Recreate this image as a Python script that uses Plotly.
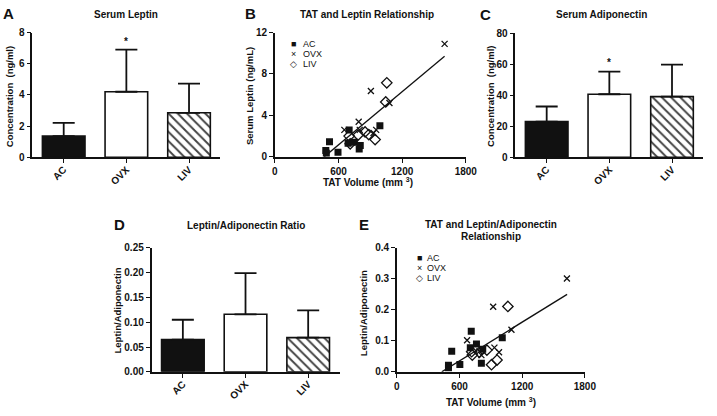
import plotly.graph_objects as go

W, H = 717, 416
FONT = "Liberation Sans, Arial, sans-serif"
INK = "#111111"

# ---------------- data ----------------
groups = ["AC", "OVX", "LIV"]

leptin_mean = [1.35, 4.2, 2.85]
leptin_upper = [2.2, 6.9, 4.72]

adipo_mean = [23.0, 40.7, 39.2]
adipo_upper = [32.8, 55.3, 59.8]

ratio_mean = [0.065, 0.116, 0.069]
ratio_upper = [0.105, 0.199, 0.124]

# Panel B: TAT volume vs serum leptin
b_ac_x = [480, 485, 515, 595, 700, 690, 750, 805, 795, 990]
b_ac_y = [0.6, 0.35, 1.45, 0.45, 2.6, 1.3, 1.4, 1.1, 0.75, 3.0]
b_ovx_x = [1600, 905, 1080, 655, 955, 930, 790, 800]
b_ovx_y = [10.9, 6.36, 5.2, 2.6, 2.6, 2.3, 3.38, 2.6]
b_liv_x = [1055, 1045, 700, 710, 850, 885, 945, 785]
b_liv_y = [7.14, 5.3, 2.0, 1.25, 2.4, 2.15, 1.66, 2.1]
b_fit_x = [465, 1600]
b_fit_y = [0.0, 9.7]

# Panel E: TAT volume vs leptin/adiponectin
e_ac_x = [494, 494, 525, 603, 712, 703, 762, 822, 809, 1009]
e_ac_y = [0.021, 0.013, 0.066, 0.024, 0.131, 0.078, 0.090, 0.073, 0.028, 0.110]
e_ovx_x = [1628, 922, 1097, 672, 934, 978, 809, 790]
e_ovx_y = [0.301, 0.210, 0.136, 0.102, 0.078, 0.063, 0.054, 0.066]
e_liv_x = [1063, 716, 722, 862, 906, 959, 790]
e_liv_y = [0.211, 0.065, 0.054, 0.070, 0.023, 0.038, 0.063]
e_fit_x = [430, 1630]
e_fit_y = [0.0, 0.25]


def px(x):
    return x / W


def py(y):
    return 1 - y / H


fig = go.Figure()

bar_colors = [INK, "white", "white"]
bar_patterns = ["", "", "\\"]


def add_bars(mean, upper, xa, ya):
    fig.add_trace(go.Bar(
        x=groups, y=mean, xaxis=xa, yaxis=ya, width=0.68, showlegend=False,
        marker=dict(color=bar_colors, line=dict(color=INK, width=1.6),
                    pattern=dict(shape=bar_patterns, fgcolor=INK, bgcolor="white",
                                 fgopacity=1, size=6.5, solidity=0.3)),
        error_y=dict(type="data", symmetric=False,
                     array=[u - m for u, m in zip(upper, mean)],
                     arrayminus=[0, 0, 0], color=INK, thickness=1.8, width=11),
    ))


add_bars(leptin_mean, leptin_upper, "x", "y")
add_bars(adipo_mean, adipo_upper, "x3", "y3")
add_bars(ratio_mean, ratio_upper, "x4", "y4")


def add_scatter(xa, ya, acx, acy, ovx, ovy, livx, livy, fx, fy):
    fig.add_trace(go.Scatter(x=fx, y=fy, xaxis=xa, yaxis=ya, mode="lines",
                             line=dict(color=INK, width=1.3), showlegend=False))
    fig.add_trace(go.Scatter(x=acx, y=acy, xaxis=xa, yaxis=ya, mode="markers", name="AC",
                             marker=dict(symbol="square", size=7, color=INK), showlegend=False))
    fig.add_trace(go.Scatter(x=ovx, y=ovy, xaxis=xa, yaxis=ya, mode="markers", name="OVX",
                             marker=dict(symbol="x-thin", size=6, line=dict(color=INK, width=1.3)),
                             showlegend=False))
    fig.add_trace(go.Scatter(x=livx, y=livy, xaxis=xa, yaxis=ya, mode="markers", name="LIV",
                             marker=dict(symbol="diamond-open", size=8, color=INK,
                                         line=dict(color=INK, width=1.3)), showlegend=False))


add_scatter("x2", "y2", b_ac_x, b_ac_y, b_ovx_x, b_ovx_y, b_liv_x, b_liv_y, b_fit_x, b_fit_y)
add_scatter("x5", "y5", e_ac_x, e_ac_y, e_ovx_x, e_ovx_y, e_liv_x, e_liv_y, e_fit_x, e_fit_y)

tickfont = dict(family=FONT, size=10, color=INK, weight="bold")
axis_common = dict(showline=True, linecolor=INK, linewidth=1.5, ticks="outside",
                   ticklen=4, tickwidth=1.3, tickcolor=INK, showgrid=False,
                   zeroline=False, tickfont=tickfont, fixedrange=True)

# (x_left, x_right, y_bottom, y_top) in pixels
boxes = {
    "1": (30, 222, 155.7, 27.3),
    "2": (277.7, 472.7, 155.3, 27.3),
    "3": (523.3, 715.3, 155.7, 28.3),
    "4": (151.7, 343.7, 376.7, 249),
    "5": (402.3, 594.3, 376.7, 249),
}
yranges = {"1": [0, 8], "2": [0, 12], "3": [0, 80], "4": [0, 0.25], "5": [0, 0.4]}
ydtick = {"1": 2, "2": 4, "3": 20, "4": 0.05, "5": 0.1}
yfmt = {"1": "d", "2": "d", "3": "d", "4": ".2f", "5": ".1f"}

layout_axes = {}
for k, (xl, xr, yb, yt) in boxes.items():
    xn = "xaxis" if k == "1" else f"xaxis{k}"
    yn = "yaxis" if k == "1" else f"yaxis{k}"
    ya_name = "y" if k == "1" else f"y{k}"
    xa_name = "x" if k == "1" else f"x{k}"
    xa = dict(axis_common, domain=[px(xl), px(xr)], anchor=ya_name)
    if k in ("2", "5"):
        xa.update(range=[0, 1800], tickvals=[0, 600, 1200, 1800])
    else:
        xa.update(type="category", range=[-0.5, 2.5], tickangle=-45, ticklabelstandoff=-3)
    ya = dict(axis_common, domain=[py(yb), py(yt)], anchor=xa_name,
              range=yranges[k], dtick=ydtick[k], tick0=0, tickformat=yfmt[k])
    layout_axes[xn] = xa
    layout_axes[yn] = ya

fig.update_layout(**layout_axes)

ann = []


def text(x, y, s, size=10, bold=True, angle=0, xanchor="center"):
    ann.append(dict(x=px(x), y=py(y), xref="paper", yref="paper", text=s, showarrow=False,
                    textangle=angle, xanchor=xanchor, yanchor="middle",
                    font=dict(family=FONT, size=size, color=INK,
                              weight="bold" if bold else "normal")))


# panel letters
for letter, (x, y) in {"A": (6, 8), "B": (252.5, 8), "C": (492.5, 8.7),
                       "D": (118.7, 224.5), "E": (369, 225)}.items():
    text(x, y, letter, size=15)

# panel titles
text(126, 9, "Serum Leptin")
text(371.7, 9, "TAT and Leptin Relationship")
text(611.7, 8.5, "Serum Adiponectin")
text(248, 226, "Leptin/Adiponectin Ratio")
text(498.3, 225, "TAT and Leptin/Adiponectin")
text(498.3, 237, "Relationship")

# axis titles
text(6, 93, "Concentration  (ng/ml)", size=9.5, angle=-90)
text(252.5, 92.5, "Serum Leptin (ng/mL)", size=9.5, angle=-90)
text(498, 93, "Concentration  (ng/ml)", size=9.5, angle=-90)
text(117, 314, "Leptin/Adiponectin", size=9.5, angle=-90)
text(368.3, 316.7, "Leptin/Adiponectin", size=9.5, angle=-90)
text(373, 181, "TAT Volume (mm <sup>3</sup>)", size=10)
text(498, 408, "TAT Volume (mm <sup>3</sup>)", size=10)

# legends
for (sx, tx, rows) in [(296.7, 304, (39.3, 49.3, 60)), (425.7, 431, (259.3, 269.3, 280))]:
    for sym, lab, y in zip(["■", "×", "◇"], groups, rows):
        text(sx, y, sym, size=9, bold=False)
        text(tx, y, lab, size=9, bold=False, xanchor="left")

# significance asterisks
ann.append(dict(x="OVX", y=7.45, xref="x", yref="y", text="*", showarrow=False,
                yanchor="middle", font=dict(family=FONT, size=10, color=INK, weight="bold")))
ann.append(dict(x="OVX", y=61, xref="x3", yref="y3", text="*", showarrow=False,
                yanchor="middle", font=dict(family=FONT, size=10, color=INK, weight="bold")))

fig.update_layout(width=W, height=H, margin=dict(l=0, r=0, t=0, b=0),
                  paper_bgcolor="white", plot_bgcolor="white", annotations=ann,
                  showlegend=False, bargap=0.3, font=dict(family=FONT, color=INK))

fig.write_html("out.html", config={"displayModeBar": False},
               post_script="document.body.style.margin='0px';document.body.style.overflow='hidden';")
